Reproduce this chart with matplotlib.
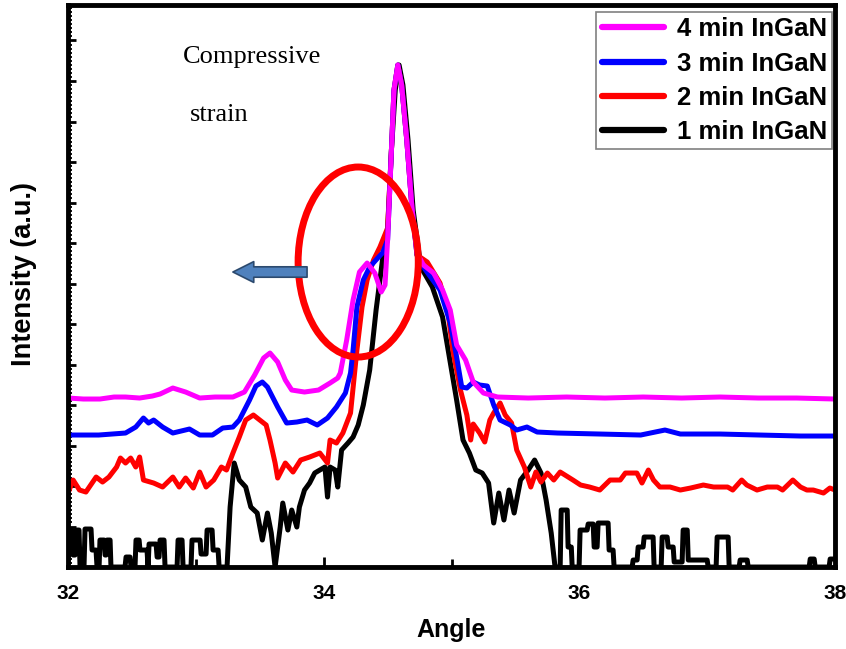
import matplotlib
matplotlib.use("Agg")
import matplotlib.pyplot as plt
from matplotlib.patches import Ellipse
from matplotlib.ticker import MultipleLocator

# XRD scans around the GaN (0002) reflection for different InGaN growth times
angle_4min = [32.00, 32.12, 32.25, 32.36, 32.45, 32.56, 32.66, 32.72, 32.82, 32.92, 33.03, 33.15,
              33.29, 33.38, 33.46, 33.53, 33.58, 33.64, 33.70, 33.75, 33.85, 33.96, 34.05, 34.11,
              34.13, 34.18, 34.23, 34.28, 34.34, 34.40, 34.45, 34.48, 34.50, 34.53, 34.55, 34.58,
              34.61, 34.65, 34.69, 34.73, 34.78, 34.86, 34.93, 34.99, 35.04, 35.11, 35.17, 35.25,
              35.36, 35.60, 35.90, 36.20, 36.50, 36.80, 37.10, 37.40, 37.70, 38.00]
int_4min = [169, 168, 168, 170, 170, 169, 171, 173, 179, 175, 169, 170,
            170, 175, 192, 209, 214, 205, 187, 177, 175, 177, 184, 189,
            194, 227, 267, 295, 304, 294, 275, 282, 327, 417, 477, 502,
            482, 427, 360, 314, 302, 294, 277, 257, 222, 207, 185, 174,
            170, 169, 170, 169, 170, 169, 170, 169, 169, 168]

angle_3min = [32.00, 32.24, 32.45, 32.53, 32.59, 32.63, 32.67, 32.74, 32.82, 32.95, 33.03, 33.13,
              33.21, 33.29, 33.34, 33.42, 33.47, 33.52, 33.56, 33.64, 33.71, 33.79, 33.87, 33.95,
              34.03, 34.10, 34.17, 34.21, 34.23, 34.26, 34.31, 34.36, 34.43, 34.46, 34.50, 34.53,
              34.55, 34.58, 34.61, 34.65, 34.69, 34.73, 34.78, 34.91, 34.99, 35.04, 35.08, 35.12,
              35.17, 35.22, 35.28, 35.33, 35.38, 35.46, 35.51, 35.59, 35.67, 35.83, 36.16, 36.48,
              36.67, 36.79, 37.10, 37.41, 37.73, 38.00]
int_3min = [132, 132, 134, 140, 149, 144, 147, 140, 134, 138, 132, 132,
            139, 140, 147, 167, 181, 185, 180, 160, 144, 145, 147, 142,
            149, 160, 174, 194, 217, 260, 287, 300, 310, 314, 327, 417,
            477, 502, 482, 427, 360, 312, 300, 277, 244, 210, 180, 179,
            185, 182, 181, 162, 147, 142, 137, 140, 135, 134, 133, 132,
            137, 133, 133, 132, 131, 131]

angle_2min = [32.00, 32.04, 32.09, 32.14, 32.22, 32.27, 32.32, 32.38, 32.41, 32.45, 32.49, 32.53,
              32.56, 32.59, 32.67, 32.74, 32.82, 32.87, 32.92, 32.98, 33.03, 33.08, 33.14, 33.20,
              33.24, 33.29, 33.34, 33.39, 33.45, 33.51, 33.55, 33.58, 33.62, 33.64, 33.70, 33.76,
              33.82, 33.89, 33.97, 34.03, 34.05, 34.10, 34.15, 34.21, 34.26, 34.30, 34.34, 34.39,
              34.44, 34.50, 34.53, 34.55, 34.58, 34.61, 34.65, 34.69, 34.73, 34.81, 34.91, 34.97,
              35.01, 35.07, 35.12, 35.15, 35.17, 35.22, 35.26, 35.30, 35.33, 35.38, 35.42, 35.47,
              35.51, 35.57, 35.62, 35.66, 35.70, 35.75, 35.80, 35.85, 35.95, 36.01, 36.08, 36.16,
              36.24, 36.32, 36.36, 36.45, 36.49, 36.54, 36.58, 36.63, 36.71, 36.79, 36.87, 36.97,
              37.05, 37.16, 37.20, 37.27, 37.31, 37.39, 37.47, 37.55, 37.59, 37.67, 37.73, 37.78,
              37.83, 37.91, 37.96, 38.00]
int_2min = [74, 87, 77, 75, 90, 85, 90, 100, 109, 104, 109, 100,
            110, 87, 84, 80, 90, 80, 89, 79, 95, 80, 87, 100,
            97, 114, 130, 147, 152, 146, 142, 127, 104, 89, 104, 95,
            107, 110, 114, 104, 127, 124, 134, 154, 217, 260, 287, 307,
            320, 339, 417, 477, 502, 482, 427, 360, 312, 305, 284, 257,
            217, 177, 152, 127, 143, 134, 125, 147, 154, 164, 152, 144,
            117, 100, 80, 95, 85, 94, 87, 95, 87, 82, 80, 77,
            87, 87, 94, 94, 84, 97, 87, 80, 80, 77, 79, 82,
            80, 80, 77, 87, 82, 77, 80, 80, 77, 87, 80, 77,
            77, 74, 79, 77]

angle_1min = [32.000, 32.008, 32.031, 32.039, 32.055, 32.063, 32.086, 32.094, 32.125, 32.133,
              32.180, 32.188, 32.219, 32.227, 32.243, 32.250, 32.282, 32.290, 32.298, 32.305,
              32.329, 32.336, 32.446, 32.454, 32.485, 32.493, 32.524, 32.532, 32.556, 32.563,
              32.618, 32.626, 32.634, 32.689, 32.697, 32.712, 32.720, 32.751, 32.759, 32.853,
              32.861, 32.892, 32.900, 32.962, 32.970, 33.033, 33.041, 33.080, 33.088, 33.127,
              33.135, 33.174, 33.182, 33.244,
              33.268, 33.30, 33.34, 33.39, 33.43,
              33.48, 33.52, 33.56, 33.59, 33.62, 33.66, 33.68, 33.72, 33.75, 33.79, 33.81, 33.85,
              33.89, 33.93, 33.97, 34.01, 34.03, 34.05, 34.09, 34.11, 34.14, 34.19, 34.23, 34.27,
              34.31, 34.36, 34.41, 34.46, 34.50, 34.53, 34.56, 34.59, 34.62, 34.66, 34.70, 34.76,
              34.85, 34.93, 34.99, 35.04, 35.09, 35.14, 35.19, 35.24, 35.29, 35.33, 35.37, 35.41,
              35.45, 35.49, 35.54, 35.60, 35.65, 35.70, 35.74, 35.78, 35.81,
              35.850, 35.858, 35.905, 35.912, 35.937, 35.944, 35.998, 36.006, 36.061, 36.069,
              36.108, 36.116, 36.139, 36.147, 36.225, 36.233, 36.264, 36.272, 36.413, 36.421,
              36.452, 36.460, 36.499, 36.507, 36.577, 36.585, 36.640, 36.648, 36.687, 36.695,
              36.734, 36.742, 36.804, 36.812, 36.844, 36.852, 37.000, 37.008, 37.070, 37.078,
              37.164, 37.172, 37.250, 37.258, 37.313, 37.321, 37.798, 37.806, 37.837, 37.845,
              37.954, 37.962, 38.000]
int_1min = [0, 37, 37, 12, 12, 37, 37, 0, 0, 38,
            38, 17, 17, 0, 0, 27, 27, 12, 12, 27,
            27, 0, 0, 10, 10, 0, 0, 27, 27, 17,
            17, 0, 23, 23, 10, 10, 27, 27, 0, 0,
            27, 27, 0, 0, 27, 27, 13, 13, 37, 37,
            17, 17, 0, 0,
            60, 104, 87, 80, 60,
            54, 27, 54, 34, 0, 40, 64, 37, 57, 40, 60, 77,
            84, 94, 97, 100, 70, 100, 97, 80, 117, 124, 130, 142,
            162, 197, 257, 307, 337, 417, 477, 502, 482, 427, 357, 300,
            280, 250, 205, 167, 127, 114, 97, 94, 84, 44, 74, 47,
            77, 54, 87, 97, 107, 94, 67, 34, 0,
            0, 57, 57, 20, 20, 0, 0, 37, 37, 43,
            43, 20, 20, 44, 44, 17, 17, 0, 0, 7,
            7, 20, 20, 30, 30, 0, 0, 30, 30, 20,
            20, 5, 5, 37, 37, 7, 7, 0, 0, 30,
            30, 0, 0, 7, 7, 0, 0, 8, 8, 0,
            0, 8, 8]

series = [
    (angle_1min, int_1min, "black", "1 min InGaN"),
    (angle_2min, int_2min, "#ff0000", "2 min InGaN"),
    (angle_3min, int_3min, "#0000ff", "3 min InGaN"),
    (angle_4min, int_4min, "#ff00ff", "4 min InGaN"),
]

plt.rcParams["font.family"] = ["Liberation Sans", "DejaVu Sans"]

fig = plt.figure(figsize=(8.46, 6.49), dpi=100)
ax = fig.add_axes([0.0804, 0.1263, 0.9066, 0.866])

handles = []
for x, y, color, label in series:
    (ln,) = ax.plot(x, y, color=color, lw=3.6, label=label,
                    solid_joinstyle="round", solid_capstyle="round")
    handles.append(ln)

ax.set_xlim(32, 38)
ax.set_ylim(0, 562)

ax.xaxis.set_major_locator(MultipleLocator(2))
ax.xaxis.set_minor_locator(MultipleLocator(1))
ax.yaxis.set_major_locator(MultipleLocator(40.5))
ax.yaxis.set_minor_locator(MultipleLocator(4.05))
ax.tick_params(axis="x", which="both", direction="in", top=False, width=2, pad=12,
               labelsize=15)
ax.tick_params(axis="x", which="major", length=7)
ax.tick_params(axis="x", which="minor", length=6)
ax.tick_params(axis="y", which="both", direction="in", right=False, labelleft=False)
ax.tick_params(axis="y", which="major", length=6, width=2)
ax.tick_params(axis="y", which="minor", length=3, width=1.3)
for lbl in ax.get_xticklabels():
    lbl.set_fontweight("bold")
for sp in ax.spines.values():
    sp.set_linewidth(3.5)

ax.set_xlabel("Angle", fontsize=18, fontweight="bold", labelpad=11)
ax.set_ylabel("Intensity (a.u.)", fontsize=19.5, fontweight="bold")
ax.yaxis.set_label_coords(-0.041, 0.521)

# Strain annotation: ring around the InGaN shoulder and a shift arrow
ax.add_patch(Ellipse((34.27, 305), width=0.94, height=190, fill=False,
                     edgecolor="#ff0000", lw=5, zorder=5))
ax.annotate("", xy=(33.29, 295), xytext=(33.87, 295),
            arrowprops=dict(arrowstyle="simple,head_length=1.0,head_width=1.0,tail_width=0.5",
                            mutation_scale=15, fc="#4f81bd", ec="#2c4a6e", lw=1.2,
                            shrinkA=0, shrinkB=0), zorder=6)
ax.text(32.90, 510, "Compressive", fontsize=19, family=["Liberation Serif", "DejaVu Serif"],
        ha="left", va="center")
ax.text(32.955, 452, "strain", fontsize=19, family=["Liberation Serif", "DejaVu Serif"],
        ha="left", va="center")

leg = ax.legend(handles[::-1], [h.get_label() for h in handles[::-1]],
                loc="upper right", bbox_to_anchor=(0.996, 0.987),
                prop={"weight": "bold", "size": 18.5}, handlelength=2.45, handletextpad=0.47,
                labelspacing=0.4, borderpad=0.2, borderaxespad=0.0, fancybox=False,
                framealpha=1)
leg.get_frame().set_edgecolor("#808080")
leg.get_frame().set_linewidth(1.2)
for lh in leg.get_lines():
    lh.set_linewidth(4.5)

fig.savefig("out.png", dpi=100)
